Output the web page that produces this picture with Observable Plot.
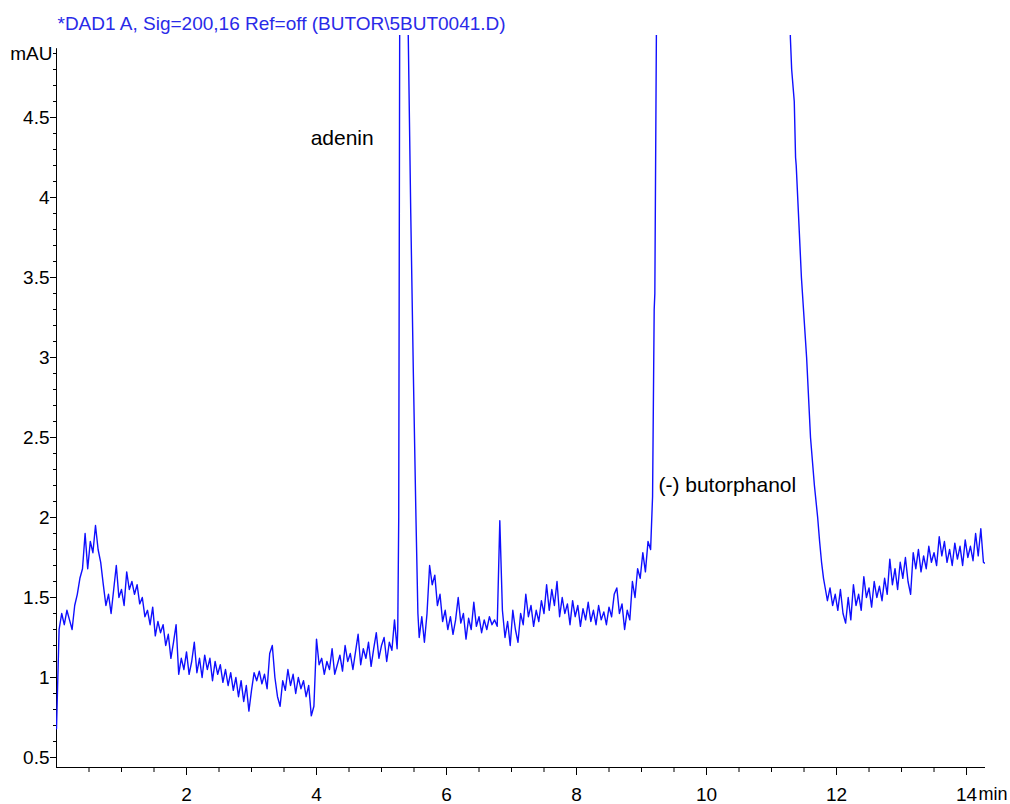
<!DOCTYPE html>
<html><head><meta charset="utf-8">
<script src="https://cdn.jsdelivr.net/npm/d3@7"></script>
<script src="https://cdn.jsdelivr.net/npm/@observablehq/plot@0.6"></script>
<style>html,body{margin:0;padding:0;background:#fff;} svg{display:block;}</style>
</head><body><div id="chart"></div>
<script>
const title = "*DAD1 A, Sig=200,16 Ref=off (BUTOR\\5BUT0041.D)";
const yLabel = "mAU";
const xUnit = "min";
const xTicks = [2, 4, 6, 8, 10, 12, 14];
const yTicks = [0.5, 1, 1.5, 2, 2.5, 3, 3.5, 4, 4.5];
const peakLabels = ["adenin", "(-) butorphanol"];
const peakLabelT = [3.91, 9.26];
const peakLabelV = [4.33, 2.16];

// sampling step (min) of the noisy baseline segments
const step = 0.04;

// baseline 0.00 .. 5.24 min
const baseAStart = 0;
const baseA = [
  0.68,1.30,1.40,1.33,1.42,1.36,1.30,1.45,1.52,1.62,
  1.68,1.90,1.68,1.85,1.78,1.95,1.80,1.72,1.58,1.45,
  1.52,1.40,1.55,1.70,1.50,1.55,1.45,1.66,1.55,1.60,
  1.52,1.58,1.46,1.50,1.38,1.42,1.33,1.44,1.26,1.35,
  1.28,1.33,1.20,1.27,1.12,1.22,1.33,1.02,1.12,1.05,
  1.16,1.02,1.10,1.22,1.03,1.12,1.00,1.14,1.05,1.12,
  0.98,1.10,1.02,1.08,0.97,1.05,0.95,1.03,0.92,1.00,
  0.88,0.98,0.85,0.95,0.79,0.92,1.03,0.98,1.04,0.96,
  1.02,0.93,1.15,1.20,1.00,0.88,0.82,0.98,0.92,1.05,
  0.95,1.02,0.90,1.00,0.93,0.98,0.88,0.95,0.76,0.82,
  1.24,1.08,1.12,1.02,1.10,1.05,1.18,1.02,1.08,1.14,
  1.04,1.20,1.10,1.15,1.05,1.16,1.27,1.08,1.18,1.12,
  1.22,1.07,1.18,1.28,1.12,1.20,1.25,1.10,1.22,1.17,
  1.36,1.18
];

// adenin peak (off scale at top)
const adeninT = [5.25, 5.265, 5.28, 5.33, 5.405, 5.45, 5.49, 5.53, 5.56];
const adeninV = [1.30, 2.0, 5.1, 7.5, 5.2, 3.9, 2.9, 2.0, 1.4];

// baseline 5.58 .. 9.14 min
const baseBStart = 5.58;
const baseB = [
  1.25,1.38,1.22,1.40,1.70,1.58,1.64,1.45,1.52,1.35,
  1.42,1.30,1.38,1.27,1.36,1.50,1.34,1.40,1.24,1.37,
  1.30,1.47,1.32,1.38,1.28,1.36,1.30,1.38,1.33,1.36,
  1.32,1.98,1.42,1.25,1.35,1.20,1.42,1.30,1.22,1.40,
  1.33,1.52,1.38,1.45,1.32,1.42,1.35,1.48,1.40,1.58,
  1.42,1.55,1.45,1.60,1.38,1.50,1.40,1.46,1.33,1.48,
  1.38,1.45,1.32,1.43,1.36,1.47,1.35,1.42,1.33,1.45,
  1.36,1.41,1.33,1.44,1.38,1.52,1.56,1.40,1.46,1.30,
  1.42,1.36,1.60,1.50,1.68,1.62,1.78,1.66,1.85,1.80
];

// (-) butorphanol peak (off scale at top)
const butT = [9.17, 9.195, 9.205, 9.23, 9.26, 10.3, 11.26, 11.29, 11.31, 11.35, 11.37, 11.38, 11.46, 11.54, 11.60, 11.66, 11.71, 11.74, 11.77, 11.80, 11.83];
const butV = [2.13, 3.3, 3.4, 5.1, 7.0, 12.0, 6.0, 5.0, 4.8, 4.6, 4.25, 4.2, 3.5, 3.0, 2.5, 2.2, 2.0, 1.85, 1.72, 1.62, 1.55];

// baseline 11.86 .. 14.30 min
const baseCStart = 11.86;
const baseC = [
  1.48,1.56,1.45,1.52,1.42,1.55,1.40,1.34,1.50,1.36,
  1.58,1.45,1.52,1.42,1.63,1.50,1.56,1.44,1.60,1.50,
  1.57,1.48,1.62,1.52,1.74,1.58,1.68,1.55,1.72,1.62,
  1.75,1.60,1.52,1.78,1.68,1.80,1.66,1.76,1.68,1.82,
  1.72,1.78,1.70,1.88,1.76,1.85,1.72,1.80,1.70,1.84,
  1.74,1.82,1.70,1.86,1.75,1.82,1.73,1.90,1.76,1.93,
  1.72,1.71
];

const pts = [];
baseA.forEach((v, i) => pts.push({t: baseAStart + i * step, v}));
adeninT.forEach((t, i) => pts.push({t, v: adeninV[i]}));
baseB.forEach((v, i) => pts.push({t: baseBStart + i * step, v}));
butT.forEach((t, i) => pts.push({t, v: butV[i]}));
baseC.forEach((v, i) => pts.push({t: baseCStart + i * step, v}));

const yMin = 0.4375, yMax = 5.0125, xMax = 14.292, yAxisTop = 4.93;
const minorX = d3.range(0.5, 14.26, 0.5).filter(d => !xTicks.includes(d));
const minorY = d3.range(6, 50).map(d => d / 10).filter(d => !yTicks.includes(d));
const labels = peakLabels.map((s, i) => ({s, t: peakLabelT[i], v: peakLabelV[i]}));

const chart = Plot.plot({
  width: 1010, height: 804,
  marginLeft: 56, marginRight: 25, marginTop: 35, marginBottom: 37,
  x: {domain: [0, xMax], label: null},
  y: {domain: [yMin, yMax], label: null},
  style: {fontFamily: "'Liberation Sans', Arial, sans-serif", color: "#000", background: "#fff", overflow: "visible"},
  marks: [
    Plot.axisX(minorX, {tickSize: 5, tickFormat: () => "", label: null}),
    Plot.axisX(xTicks, {tickSize: 8, tickPadding: 12, fontSize: 19, tickFormat: d => String(d), label: null}),
    Plot.text([xUnit], {x: () => 14, frameAnchor: "bottom", textAnchor: "start", lineAnchor: "top", dx: 12, dy: 20, fontSize: 18, text: d => d}),
    Plot.axisY(minorY, {tickSize: 3, tickFormat: () => "", label: null}),
    Plot.axisY(yTicks, {tickSize: 6, tickPadding: 1, fontSize: 19, tickFormat: d => String(d), label: null}),
    Plot.text([yLabel], {x: () => 0, y: () => 4.9, textAnchor: "end", dx: -4, fontSize: 19, text: d => d}),
    Plot.ruleY([yMin], {stroke: "#000"}),
    Plot.ruleX([0], {y1: yMin, y2: yAxisTop, stroke: "#000"}),
    Plot.line(pts, {x: "t", y: "v", stroke: "#0f0fff", strokeWidth: 1.4, clip: true}),
    Plot.text(labels, {x: "t", y: "v", text: "s", textAnchor: "start", lineAnchor: "bottom", fontSize: 21, fill: "#000"}),
    Plot.text([title], {frameAnchor: "top-left", textAnchor: "start", lineAnchor: "bottom", dx: 1, dy: -6, fontSize: 19, fill: "#2a2ae8", text: d => d})
  ]
});
document.getElementById("chart").appendChild(chart);
</script>
</body></html>
